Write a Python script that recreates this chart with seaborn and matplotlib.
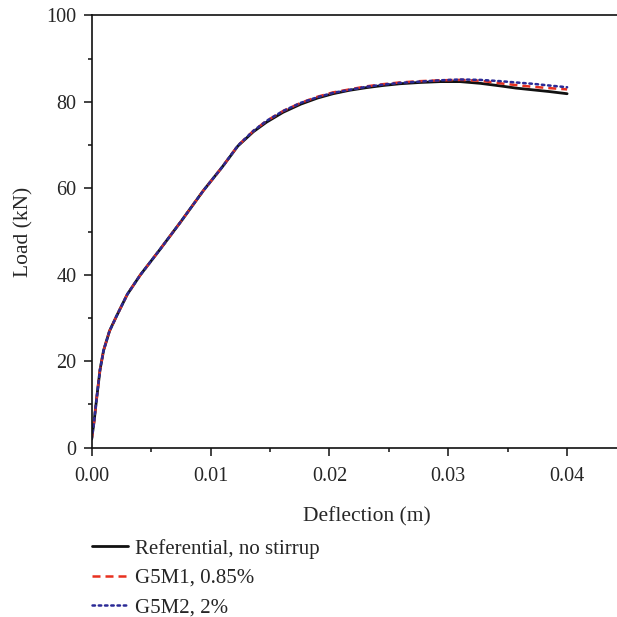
import matplotlib
matplotlib.use("Agg")
import matplotlib.pyplot as plt
from matplotlib.ticker import MultipleLocator, FormatStrFormatter
import seaborn as sns
import pandas as pd

deflection = [0, 0.0002, 0.0004, 0.0007, 0.001, 0.0015, 0.0021, 0.003, 0.0041, 0.0057,
              0.0075, 0.0094, 0.011, 0.0123, 0.0136, 0.0147, 0.0161, 0.0176, 0.019, 0.0203,
              0.0217, 0.0231, 0.0245, 0.0259, 0.0276, 0.0293, 0.031, 0.0327, 0.0344, 0.0357,
              0.0371, 0.0385, 0.04]
load_ref = [2, 6, 11, 18, 22.5, 27, 30.5, 35.5, 40, 45.7,
            52.3, 59.5, 65, 69.8, 73.1, 75.3, 77.6, 79.5, 80.9, 81.9,
            82.7, 83.3, 83.8, 84.2, 84.5, 84.7, 84.7, 84.3, 83.7, 83.2,
            82.8, 82.4, 81.9]
load_g5m1 = [2, 6, 11, 18, 22.5, 27, 30.5, 35.5, 40, 45.7,
             52.3, 59.5, 65, 69.9, 73.3, 75.6, 77.9, 79.8, 81.2, 82.2,
             82.9, 83.6, 84.1, 84.5, 84.8, 85.0, 85.1, 84.9, 84.3, 83.9,
             83.5, 83.2, 82.9]
load_g5m2 = [2, 6, 11, 18, 22.5, 27, 30.5, 35.5, 40, 45.7,
             52.3, 59.5, 65, 69.9, 73.3, 75.6, 77.9, 79.8, 81.1, 82.1,
             82.8, 83.5, 84.0, 84.4, 84.7, 85.0, 85.2, 85.1, 84.8, 84.5,
             84.2, 83.8, 83.4]
labels = ["Referential, no stirrup", "G5M1, 0.85%", "G5M2, 2%"]

sns.set_style("ticks")
plt.rcParams["font.family"] = ["Liberation Serif", "DejaVu Serif"]
plt.rcParams["font.size"] = 14

fig = plt.figure(figsize=(6.17, 6.17), dpi=100)
ax = fig.add_axes([0.1486, 0.2744, 0.8919, 0.7005])

series = [load_ref, load_g5m1, load_g5m2]
colors = ["#111111", "#e8301f", "#2b2a96"]
styles = ["-", (0, (3.2, 2.0)), (0, (1, 1.5))]
widths = [2.0, 1.8, 1.8]
for lab, ys, c, ls, lw in zip(labels, series, colors, styles, widths):
    df = pd.DataFrame({"x": deflection, "y": ys})
    sns.lineplot(data=df, x="x", y="y", ax=ax, color=c, linestyle=ls, linewidth=lw,
                 label=lab, legend=False, dash_capstyle="round" if ls == styles[2] else "butt")

ax.set_xlim(0, 0.0463)
ax.set_ylim(0, 100)
ax.xaxis.set_major_locator(MultipleLocator(0.01))
ax.xaxis.set_minor_locator(MultipleLocator(0.005))
ax.yaxis.set_major_locator(MultipleLocator(20))
ax.yaxis.set_minor_locator(MultipleLocator(10))
ax.xaxis.set_major_formatter(FormatStrFormatter("%.2f"))
ax.tick_params(which="major", direction="out", length=6, width=1.2, labelsize=14.5,
               color="#222222")
ax.tick_params(which="minor", direction="out", length=3, width=1.2, color="#222222")
ax.tick_params(axis="x", which="major", pad=8)
ax.tick_params(axis="y", which="major", pad=5)
for s in ["left", "bottom", "top"]:
    ax.spines[s].set_linewidth(1.2)
    ax.spines[s].set_color("#111111")
ax.spines["right"].set_visible(False)
ax.set_xlabel("Deflection (m)", fontsize=15.5, labelpad=15)
ax.set_ylabel("Load (kN)", fontsize=15.5, labelpad=9)

handles, labs = ax.get_legend_handles_labels()
fig.legend(handles, labs, loc="upper left", bbox_to_anchor=(0.1486, 0.127),
           frameon=False, fontsize=15, handlelength=1.73, handletextpad=0.34,
           labelspacing=0.47, borderpad=0, borderaxespad=0)

fig.savefig("out.png", dpi=100)
